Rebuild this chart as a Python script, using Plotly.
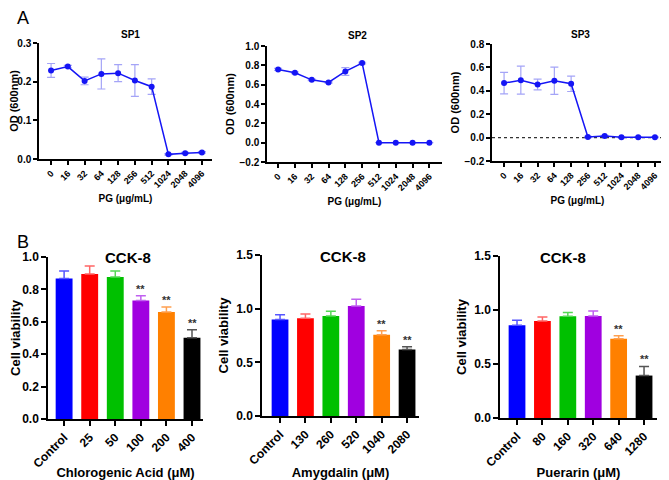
import plotly.graph_objects as go

# ---- data ----
pg_labels = ["0", "16", "32", "64", "128", "256", "512", "1024", "2048", "4096"]
sp1_mean = [0.229, 0.239, 0.202, 0.220, 0.222, 0.203, 0.187, 0.012, 0.015, 0.017]
sp1_err = [0.018, 0.003, 0.010, 0.039, 0.022, 0.041, 0.020, 0.002, 0.002, 0.002]
sp2_mean = [0.758, 0.723, 0.650, 0.623, 0.737, 0.824, 0.0, 0.0, 0.0, 0.0]
sp2_err = [0.010, 0.008, 0.008, 0.008, 0.040, 0.008, 0.0, 0.0, 0.0, 0.0]
sp3_mean = [0.466, 0.491, 0.454, 0.486, 0.460, 0.005, 0.014, 0.003, 0.003, 0.003]
sp3_err = [0.092, 0.120, 0.046, 0.117, 0.066, 0.005, 0.005, 0.003, 0.003, 0.003]

cga_labels = ["Control", "25", "50", "100", "200", "400"]
cga_mean = [0.867, 0.895, 0.877, 0.731, 0.661, 0.501]
cga_err = [0.047, 0.050, 0.037, 0.030, 0.031, 0.050]
cga_sig = ["", "", "", "**", "**", "**"]

amy_labels = ["Control", "130", "260", "520", "1040", "2080"]
amy_mean = [0.900, 0.910, 0.931, 1.025, 0.757, 0.620]
amy_err = [0.044, 0.040, 0.044, 0.062, 0.037, 0.025]
amy_sig = ["", "", "", "", "**", "**"]

pue_labels = ["Control", "80", "160", "320", "640", "1280"]
pue_mean = [0.858, 0.898, 0.941, 0.944, 0.734, 0.393]
pue_err = [0.046, 0.037, 0.037, 0.046, 0.028, 0.084]
pue_sig = ["", "", "", "", "**", "**"]

bar_colors = ["#0000FF", "#FF0000", "#00C000", "#A000E0", "#FF8000", "#000000"]
err_colors = ["#5555FF", "#FF6666", "#55D855", "#C060F0", "#FFA050", "#555555"]

# page body has an 8px margin, so the figure is 8px smaller and shifted
OFF = 8
W, H = 669 - OFF, 480 - OFF
FONT = "Arial, Liberation Sans, sans-serif"


def dom_x(a, b):
    return [(a - OFF) / W, (b - OFF) / W]


def dom_y(top, bottom):
    return [1 - (bottom - OFF) / H, 1 - (top - OFF) / H]


fig = go.Figure()

# ---- top row: line charts ----
top_sets = [
    (sp1_mean, sp1_err, "SP1"),
    (sp2_mean, sp2_err, "SP2"),
    (sp3_mean, sp3_err, "SP3"),
]
for i, (m, e, name) in enumerate(top_sets):
    n = i + 1
    fig.add_trace(go.Scatter(
        x=list(range(len(pg_labels))), y=m,
        mode="lines+markers",
        line=dict(color="#1515F5", width=1.5),
        marker=dict(color="#1515F5", size=6),
        error_y=dict(type="data", array=e, color="rgba(90,90,240,0.55)",
                     thickness=1.2, width=4),
        xaxis="x" + (str(n) if n > 1 else ""),
        yaxis="y" + (str(n) if n > 1 else ""),
        showlegend=False,
    ))

# ---- bottom row: bar charts ----
bot_sets = [
    (cga_labels, cga_mean, cga_err, cga_sig),
    (amy_labels, amy_mean, amy_err, amy_sig),
    (pue_labels, pue_mean, pue_err, pue_sig),
]
annotations = []
for i, (lab, m, e, sig) in enumerate(bot_sets):
    n = i + 4
    fig.add_trace(go.Bar(
        x=list(range(len(lab))), y=m,
        width=0.66,
        marker=dict(color=bar_colors, line=dict(width=0)),
        xaxis="x%d" % n, yaxis="y%d" % n,
        showlegend=False,
    ))
    for j in range(len(lab)):
        fig.add_trace(go.Scatter(
            x=[j], y=[m[j]], mode="markers",
            marker=dict(size=1, color="rgba(0,0,0,0)"),
            error_y=dict(type="data", symmetric=False, array=[e[j]], arrayminus=[0],
                         color=err_colors[j], thickness=1.5, width=5),
            xaxis="x%d" % n, yaxis="y%d" % n,
            showlegend=False, hoverinfo="skip",
        ))
        if sig[j]:
            annotations.append(dict(
                x=j, y=m[j] + e[j], xref="x%d" % n, yref="y%d" % n,
                text="<b>" + sig[j] + "</b>", showarrow=False,
                yanchor="bottom", yshift=-1,
                font=dict(family=FONT, size=11, color="#333333"),
            ))

axis_common = dict(
    showline=True, linecolor="black", linewidth=1.5,
    ticks="outside", tickcolor="black", tickwidth=1.5,
    showgrid=False, zeroline=False, mirror=False, automargin=False,
)

top_dom = [
    (dom_x(39, 212), dom_y(43, 159), [0, 0.3], 0.1, [-0.72, 9.6]),
    (dom_x(267, 442), dom_y(46, 162), [-0.2, 1.0], 0.2, [-0.66, 9.75]),
    (dom_x(492, 663), dom_y(44, 161), [-0.2, 0.8], 0.2, [-0.72, 9.48]),
]
layout = {}
for i, (dx, dy, yr, dt, xr) in enumerate(top_dom):
    n = i + 1
    sx = str(n) if n > 1 else ""
    layout["xaxis" + sx] = dict(
        axis_common, domain=dx, anchor="y" + sx, range=xr,
        tickvals=list(range(len(pg_labels))),
        ticktext=["<b>%s</b>" % t for t in pg_labels],
        tickangle=-45, ticklen=4,
        tickfont=dict(family=FONT, size=9, color="black"),
        title=dict(text="<b>PG (μg/mL)</b>", font=dict(family=FONT, size=10, color="black"),
                   standoff=6),
    )
    layout["yaxis" + sx] = dict(
        axis_common, domain=dy, anchor="x" + sx, range=yr, dtick=dt,
        tickformat=".1f", ticklen=4,
        tickprefix="<b>", ticksuffix="</b>",
        tickfont=dict(family=FONT, size=10, color="black"),
        title=dict(text="<b>OD (600nm)</b>", font=dict(family=FONT, size=11, color="black"),
                   standoff=3),
    )

bot_dom = [
    (dom_x(48, 203), dom_y(257, 419), [0, 1.0], 0.2, [-0.63, 5.43], "Chlorogenic Acid (μM)", cga_labels),
    (dom_x(262, 419), dom_y(255, 416), [0, 1.5], 0.5, [-0.71, 5.47], "Amygdalin (μM)", amy_labels),
    (dom_x(500, 657), dom_y(256, 418), [0, 1.5], 0.5, [-0.67, 5.51], "Puerarin (μM)", pue_labels),
]
for i, (dx, dy, yr, dt, xr, xt, lab) in enumerate(bot_dom):
    n = i + 4
    layout["xaxis%d" % n] = dict(
        axis_common, domain=dx, anchor="y%d" % n, range=xr,
        tickvals=list(range(len(lab))), ticktext=["<b>%s</b>" % t for t in lab],
        tickangle=-45, ticklen=5,
        tickfont=dict(family=FONT, size=12, color="black"),
        title=dict(text="<b>%s</b>" % xt, font=dict(family=FONT, size=13, color="black"),
                   standoff=2),
    )
    layout["yaxis%d" % n] = dict(
        axis_common, domain=dy, anchor="x%d" % n, range=yr, dtick=dt,
        tickformat=".1f", ticklen=5,
        tickprefix="<b>", ticksuffix="</b>",
        tickfont=dict(family=FONT, size=12, color="black"),
        title=dict(text="<b>Cell viability</b>", font=dict(family=FONT, size=13, color="black"),
                   standoff=5),
    )

# titles
titles = [("SP1", 130, 35, 10), ("SP2", 357, 36, 10), ("SP3", 580, 35, 10),
          ("CCK-8", 128, 257, 15), ("CCK-8", 343, 256, 15), ("CCK-8", 563, 257, 15)]
for t, px, py, fs in titles:
    annotations.append(dict(
        x=(px - OFF) / W, y=1 - (py - OFF) / H, xref="paper", yref="paper",
        text="<b>%s</b>" % t, showarrow=False,
        xanchor="center", yanchor="middle",
        font=dict(family=FONT, size=fs, color="black"),
    ))

# panel letters
for t, px, py in [("A", 23, 18.5), ("B", 23, 242)]:
    annotations.append(dict(
        x=(px - OFF) / W, y=1 - (py - OFF) / H, xref="paper", yref="paper",
        text=t, showarrow=False, xanchor="center", yanchor="middle",
        borderpad=0,
        font=dict(family=FONT, size=18, color="black"),
    ))

fig.update_layout(
    width=W, height=H,
    margin=dict(l=0, r=0, t=0, b=0),
    paper_bgcolor="white", plot_bgcolor="white",
    font=dict(family=FONT, color="black"),
    annotations=annotations,
    shapes=[dict(type="line", xref="x3 domain", yref="y3", x0=0, x1=1, y0=0, y1=0,
                 line=dict(color="#333333", width=1.2, dash="dot"), layer="below")],
    **layout,
)

fig.write_html("out.html")
